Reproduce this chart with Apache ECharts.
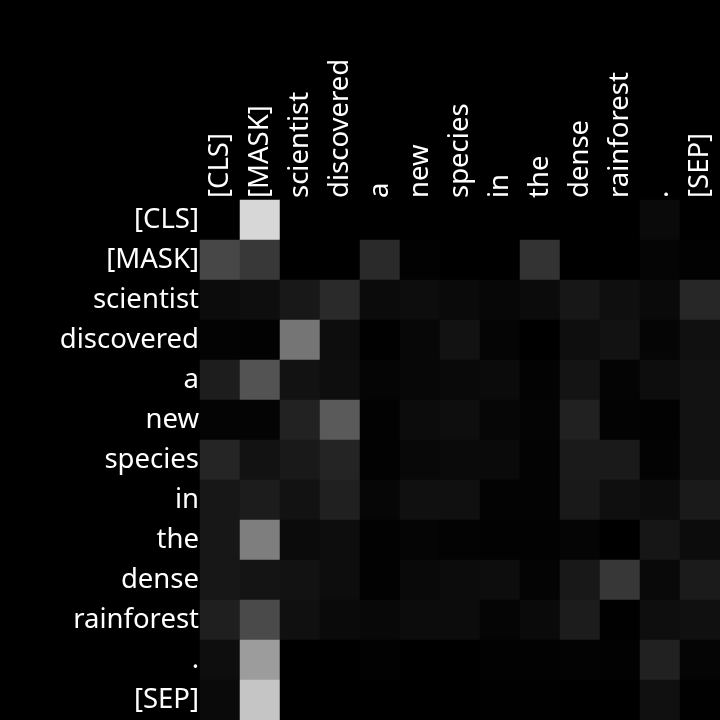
<!DOCTYPE html>
<html>
<head>
<meta charset="utf-8">
<style>
html,body{margin:0;padding:0;background:#000;}
#chart{width:720px;height:720px;}
</style>
<script src="https://cdn.jsdelivr.net/npm/echarts@6/dist/echarts.min.js"></script>
</head>
<body>
<div id="chart"></div>
<script>
var tokens = ["[CLS]","[MASK]","scientist","discovered","a","new","species","in","the","dense","rainforest",".","[SEP]"];

// attention weights: rows = query token, cols = key token
var rowCLS        = [0,     0.843, 0,     0,     0,     0,     0,     0,     0,     0,     0,     0.039, 0];
var rowMASK       = [0.278, 0.220, 0,     0,     0.165, 0.008, 0,     0,     0.200, 0,     0,     0.020, 0.008];
var rowScientist  = [0.047, 0.055, 0.094, 0.165, 0.043, 0.051, 0.039, 0.027, 0.043, 0.090, 0.059, 0.039, 0.153];
var rowDiscovered = [0.012, 0.008, 0.459, 0.051, 0.004, 0.027, 0.071, 0.020, 0,     0.055, 0.071, 0.020, 0.063];
var rowA          = [0.114, 0.325, 0.071, 0.055, 0.020, 0.027, 0.035, 0.043, 0.012, 0.078, 0.016, 0.051, 0.071];
var rowNew        = [0.016, 0.016, 0.133, 0.353, 0.008, 0.047, 0.055, 0.024, 0.016, 0.129, 0.012, 0.008, 0.071];
var rowSpecies    = [0.145, 0.071, 0.098, 0.141, 0.008, 0.031, 0.039, 0.039, 0.012, 0.102, 0.102, 0.012, 0.071];
var rowIn         = [0.090, 0.110, 0.071, 0.125, 0.024, 0.063, 0.063, 0.012, 0.012, 0.098, 0.059, 0.047, 0.102];
var rowThe        = [0.090, 0.494, 0.043, 0.051, 0.008, 0.020, 0.012, 0.008, 0.008, 0.020, 0,     0.086, 0.047];
var rowDense      = [0.090, 0.078, 0.071, 0.051, 0.008, 0.035, 0.047, 0.051, 0.016, 0.094, 0.216, 0.035, 0.106];
var rowRainforest = [0.122, 0.290, 0.063, 0.039, 0.031, 0.047, 0.047, 0.020, 0.039, 0.110, 0.004, 0.055, 0.063];
var rowPeriod     = [0.055, 0.612, 0,     0,     0.008, 0,     0,     0.008, 0.008, 0.012, 0.008, 0.129, 0.020];
var rowSEP        = [0.039, 0.773, 0,     0,     0,     0,     0,     0.004, 0.004, 0,     0,     0.063, 0.004];

var matrix = [rowCLS,rowMASK,rowScientist,rowDiscovered,rowA,rowNew,rowSpecies,rowIn,rowThe,rowDense,rowRainforest,rowPeriod,rowSEP];

var data = [];
for (var r = 0; r < matrix.length; r++) {
  for (var c = 0; c < matrix[r].length; c++) {
    data.push([c, r, matrix[r][c]]);
  }
}

var font = "'Noto Sans', 'Open Sans', sans-serif";
var chart = echarts.init(document.getElementById('chart'), null, {renderer: 'canvas'});
chart.setOption({
  backgroundColor: '#000000',
  animation: false,
  grid: {left: 200, top: 200, right: 0, bottom: 0, containLabel: false},
  xAxis: {
    type: 'category',
    data: tokens,
    position: 'top',
    axisLine: {show: false},
    axisTick: {show: false},
    splitLine: {show: false},
    axisLabel: {color: '#ffffff', fontSize: 27.5, fontFamily: font, rotate: -90, margin: 2, interval: 0, padding: [5, 0, 0, 0]}
  },
  yAxis: {
    type: 'category',
    data: tokens,
    inverse: true,
    axisLine: {show: false},
    axisTick: {show: false},
    splitLine: {show: false},
    axisLabel: {color: '#ffffff', fontSize: 27.5, fontFamily: font, margin: 1, interval: 0, padding: [5, 0, 0, 0]}
  },
  visualMap: {
    show: false,
    min: 0,
    max: 1,
    dimension: 2,
    inRange: {color: ['#000000', '#ffffff']}
  },
  series: [{
    type: 'heatmap',
    data: data,
    itemStyle: {borderWidth: 0},
    emphasis: {disabled: true}
  }]
});
</script>
</body>
</html>
